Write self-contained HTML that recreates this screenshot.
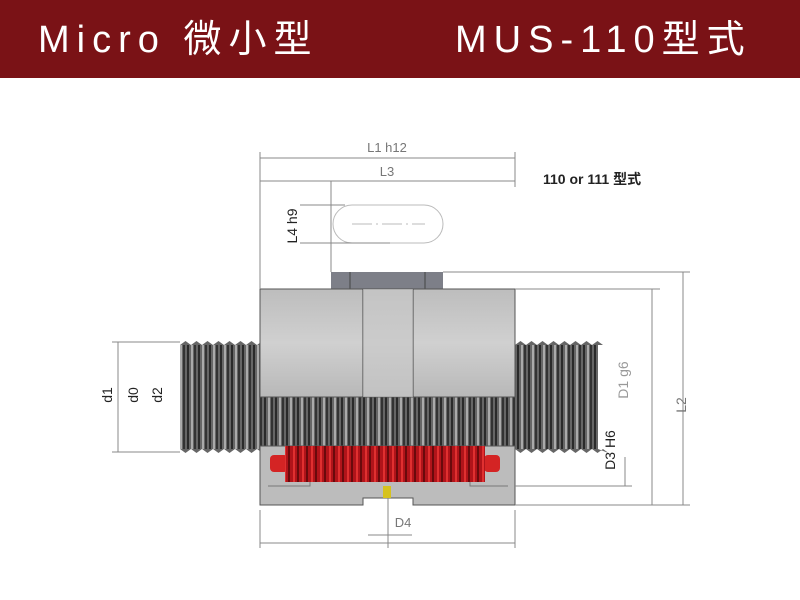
<!DOCTYPE html>
<html><head><meta charset="utf-8"><style>
body{margin:0;width:800px;height:600px;background:#fff;overflow:hidden;font-family:"Liberation Sans","Noto Sans CJK SC",sans-serif}
.hdr{position:absolute;left:0;top:0;width:800px;height:78px;background:#7a1216;color:#fff}
.hdr span{position:absolute;top:18px;font-size:38px;letter-spacing:7px;line-height:44px;white-space:nowrap}
</style></head><body>
<div class="hdr"><span style="left:38px">Micro 微小型</span><span style="left:455px">MUS-110型式</span></div>
<svg width="800" height="600" style="position:absolute;left:0;top:0" font-family="Liberation Sans, Noto Sans CJK SC, sans-serif">
<defs>
<pattern id="thr" width="11" height="10" patternUnits="userSpaceOnUse">
<rect width="11" height="10" fill="#666"/><rect x="0" width="2" height="10" fill="#2a2a2a"/><rect x="4" width="2" height="10" fill="#aaa"/><rect x="7" width="2" height="10" fill="#333"/>
</pattern>
<pattern id="red" width="9" height="8" patternUnits="userSpaceOnUse">
<rect width="9" height="8" fill="#b0141a"/><rect x="0" width="2" height="8" fill="#6a0a0c"/><rect x="5" width="2" height="8" fill="#e03030"/>
</pattern>
<linearGradient id="body" x1="0" y1="0" x2="0" y2="1"><stop offset="0" stop-color="#bdbdbd"/><stop offset=".5" stop-color="#d0d0d0"/><stop offset="1" stop-color="#b8b8b8"/></linearGradient>
</defs>
<rect x="180" y="345" width="418" height="104" fill="url(#thr)"/>
<path d="M180 345 l5.5 -4 l5.5 4 l5.5 -4 l5.5 4 l5.5 -4 l5.5 4 l5.5 -4 l5.5 4 l5.5 -4 l5.5 4 l5.5 -4 l5.5 4 l5.5 -4 l5.5 4 l5.5 -4 l5.5 4 l5.5 -4 l5.5 4 l5.5 -4 l5.5 4 l5.5 -4 l5.5 4 l5.5 -4 l5.5 4 L260 345Z" fill="#666"/>
<path d="M515 345 l5.5 -4 l5.5 4 l5.5 -4 l5.5 4 l5.5 -4 l5.5 4 l5.5 -4 l5.5 4 l5.5 -4 l5.5 4 l5.5 -4 l5.5 4 l5.5 -4 l5.5 4 l5.5 -4 l5.5 4 L598 345Z" fill="#666"/>
<path d="M180 449 l5.5 4 l5.5 -4 l5.5 4 l5.5 -4 l5.5 4 l5.5 -4 l5.5 4 l5.5 -4 l5.5 4 l5.5 -4 l5.5 4 l5.5 -4 l5.5 4 l5.5 -4 l5.5 4 l5.5 -4 l5.5 4 l5.5 -4 l5.5 4 l5.5 -4 l5.5 4 l5.5 -4 l5.5 4 l5.5 -4 l5.5 4 L260 449Z" fill="#666"/>
<path d="M515 449 l5.5 4 l5.5 -4 l5.5 4 l5.5 -4 l5.5 4 l5.5 -4 l5.5 4 l5.5 -4 l5.5 4 l5.5 -4 l5.5 4 l5.5 -4 l5.5 4 l5.5 -4 l5.5 4 l5.5 -4 l5.5 4 L598 449Z" fill="#666"/>
<rect x="331" y="272" width="112" height="18" fill="#7d7f88"/>
<line x1="350" y1="272" x2="350" y2="290" stroke="#444"/><line x1="425" y1="272" x2="425" y2="290" stroke="#444"/>
<rect x="260" y="289" width="255" height="108" fill="url(#body)" stroke="#555"/>
<line x1="363" y1="289" x2="363" y2="397" stroke="#444"/><line x1="413" y1="289" x2="413" y2="397" stroke="#444"/>
<rect x="363" y="289" width="50" height="108" fill="#c8c8c8" opacity=".6"/>
<path d="M260 446 H515 V505 H413 V498 H363 V505 H260Z" fill="#bcbcbc" stroke="#555"/>
<path d="M268 486 H310 V478 H470 V486 H508" fill="none" stroke="#777"/>
<rect x="383" y="486" width="8" height="12" fill="#d6c21e"/>
<rect x="270" y="455" width="18" height="17" rx="4" fill="#d42424"/>
<rect x="484" y="455" width="16" height="17" rx="4" fill="#d42424"/>
<rect x="285" y="446" width="200" height="36" fill="url(#red)"/>
<rect x="333" y="205" width="110" height="38" rx="19" fill="#fff" stroke="#bbb"/>
<line x1="352" y1="224" x2="425" y2="224" stroke="#bbb" stroke-dasharray="20 4 2 4"/>
<g stroke="#888" stroke-width="1" fill="none">
<line x1="260" y1="158" x2="515" y2="158"/><line x1="260" y1="181" x2="515" y2="181"/>
<line x1="260" y1="152" x2="260" y2="289"/><line x1="331" y1="181" x2="331" y2="272"/>
<line x1="515" y1="152" x2="515" y2="187"/>
<line x1="300" y1="205" x2="345" y2="205"/><line x1="300" y1="243" x2="390" y2="243"/>
<line x1="443" y1="272" x2="690" y2="272"/><line x1="515" y1="289" x2="660" y2="289"/>
<line x1="515" y1="505" x2="690" y2="505"/><line x1="515" y1="486" x2="632" y2="486"/>
<line x1="652" y1="289" x2="652" y2="505"/><line x1="683" y1="272" x2="683" y2="505"/>
<line x1="625" y1="457" x2="625" y2="486"/>
<line x1="118" y1="342" x2="118" y2="452"/><line x1="112" y1="342" x2="180" y2="342"/><line x1="112" y1="452" x2="180" y2="452"/>
<line x1="260" y1="510" x2="260" y2="548"/><line x1="515" y1="510" x2="515" y2="548"/>
<line x1="260" y1="543" x2="515" y2="543"/><line x1="388" y1="498" x2="388" y2="548"/>
<line x1="368" y1="535" x2="412" y2="535"/>
</g>
<g fill="#777" font-size="13">
<text x="387" y="152" text-anchor="middle">L1 h12</text>
<text x="387" y="176" text-anchor="middle">L3</text>
<text x="297" y="226" font-size="14" fill="#222" transform="rotate(-90 297 226)" text-anchor="middle">L4 h9</text>
<text x="403" y="527" text-anchor="middle">D4</text>
<text x="628" y="380" transform="rotate(-90 628 380)" text-anchor="middle" fill="#999" font-size="14">D1 g6</text>
<text x="686" y="405" transform="rotate(-90 686 405)" text-anchor="middle" font-size="14">L2</text>
<text x="615" y="450" transform="rotate(-90 615 450)" text-anchor="middle" fill="#222" font-size="14">D3 H6</text>
<text x="112" y="395" transform="rotate(-90 112 395)" text-anchor="middle" fill="#222" font-size="14">d1</text>
<text x="138" y="395" transform="rotate(-90 138 395)" text-anchor="middle" fill="#222" font-size="14">d0</text>
<text x="162" y="395" transform="rotate(-90 162 395)" text-anchor="middle" fill="#222" font-size="14">d2</text>
</g>
<text x="543" y="184" font-size="14" font-weight="bold" fill="#222">110 or 111 型式</text>
</svg>
</body></html>
